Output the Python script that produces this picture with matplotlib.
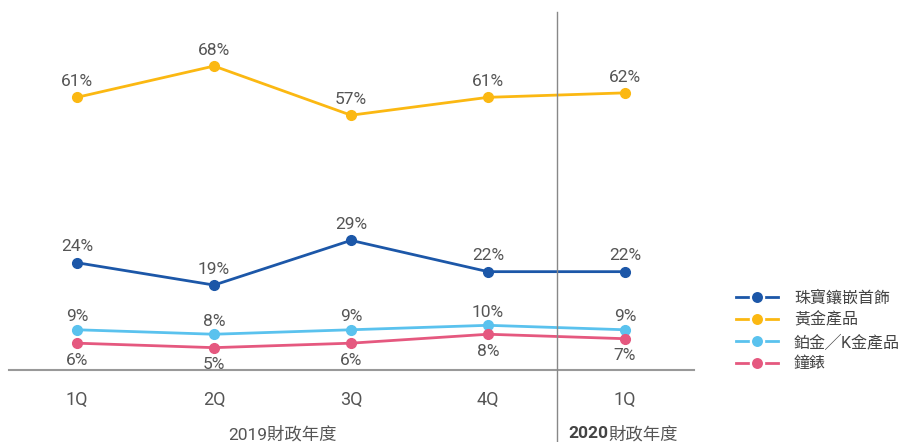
import matplotlib
matplotlib.use("Agg")
import matplotlib.pyplot as plt
from matplotlib.lines import Line2D
import matplotlib.transforms as mtransforms

plt.rcParams['font.family'] = ['Roboto', 'Noto Sans CJK TC', 'DejaVu Sans']

quarters = ["1Q", "2Q", "3Q", "4Q", "1Q"]
series_names = ["珠寶鑲嵌首飾", "黃金產品", "鉑金╱K金產品", "鐘錶"]
jewellery = [24, 19, 29, 22, 22]
gold = [61, 68, 57, 61, 62]
platinum = [9, 8, 9, 10, 9]
watches = [6, 5, 6, 8, 7]
colors = ["#1c57a8", "#fbb812", "#5ac2ee", "#e5587f"]
year_labels = ["2019財政年度", "2020", "財政年度"]

W, H = 899, 442
fig = plt.figure(figsize=(W / 100, H / 100), dpi=100)
ax = fig.add_axes([8.5 / W, 1 - 370 / H, 685 / W, 360 / H])
ax.set_xlim(-0.5, 4.5)
ax.set_ylim(0, 360 / 4.47)
for s in ["top", "right", "left"]:
    ax.spines[s].set_visible(False)
ax.spines["bottom"].set_color("#999999")
ax.spines["bottom"].set_linewidth(1.5)
ax.set_yticks([])
ax.set_xticks([])

x = list(range(len(quarters)))
data = [jewellery, gold, platinum, watches]
txtc = "#555555"
for vals, c, name in zip(data, colors, series_names):
    ax.plot(x, vals, color=c, lw=2, marker="o", ms=7, zorder=3, label=name)

fs = 12.5
for vals, off in [(jewellery, 6), (gold, 6), (platinum, 4)]:
    for xi, v in zip(x, vals):
        ax.annotate(f"{v}%", (xi, v), xytext=(0, off), textcoords="offset points",
                    ha="center", va="bottom", fontsize=fs, color=txtc)
for xi, v in zip(x, watches):
    ax.annotate(f"{v}%", (xi, v), xytext=(0, -7), textcoords="offset points",
                ha="center", va="top", fontsize=fs, color=txtc)

# x tick labels
trans = mtransforms.blended_transform_factory(ax.transData, fig.transFigure)
for xi, q in zip(x, quarters):
    fig.text(xi, 1 - 400 / H, q, transform=trans, ha="center", va="center",
             fontsize=13, color=txtc)

fig.text(1.5, 1 - 434 / H, year_labels[0], transform=trans, ha="center", va="center",
         fontsize=12.5, color=txtc)
fig.text(3.876, 1 - 434 / H, year_labels[1], transform=trans, ha="right", va="center",
         fontsize=12.5, color="#444444", fontweight="bold")
fig.text(3.876, 1 - 434 / H, year_labels[2], transform=trans, ha="left", va="center",
         fontsize=12.5, color=txtc)

# separator line
fig.add_artist(Line2D([3.5, 3.5], [0, 1 - 12 / H], transform=trans, color="#888888", lw=1))

# legend
handles = [Line2D([0], [0], color=c, lw=2, marker="o", ms=9.5,
                  markeredgecolor="white", markeredgewidth=1.6) for c in colors]
fig.legend(handles, series_names, loc="upper left", bbox_to_anchor=(722 / W, 1 - 276 / H),
           frameon=False, fontsize=11.5, labelcolor="#444444", handlelength=2.6,
           handletextpad=1.0, labelspacing=0.4)

fig.savefig("out.png", dpi=100)
